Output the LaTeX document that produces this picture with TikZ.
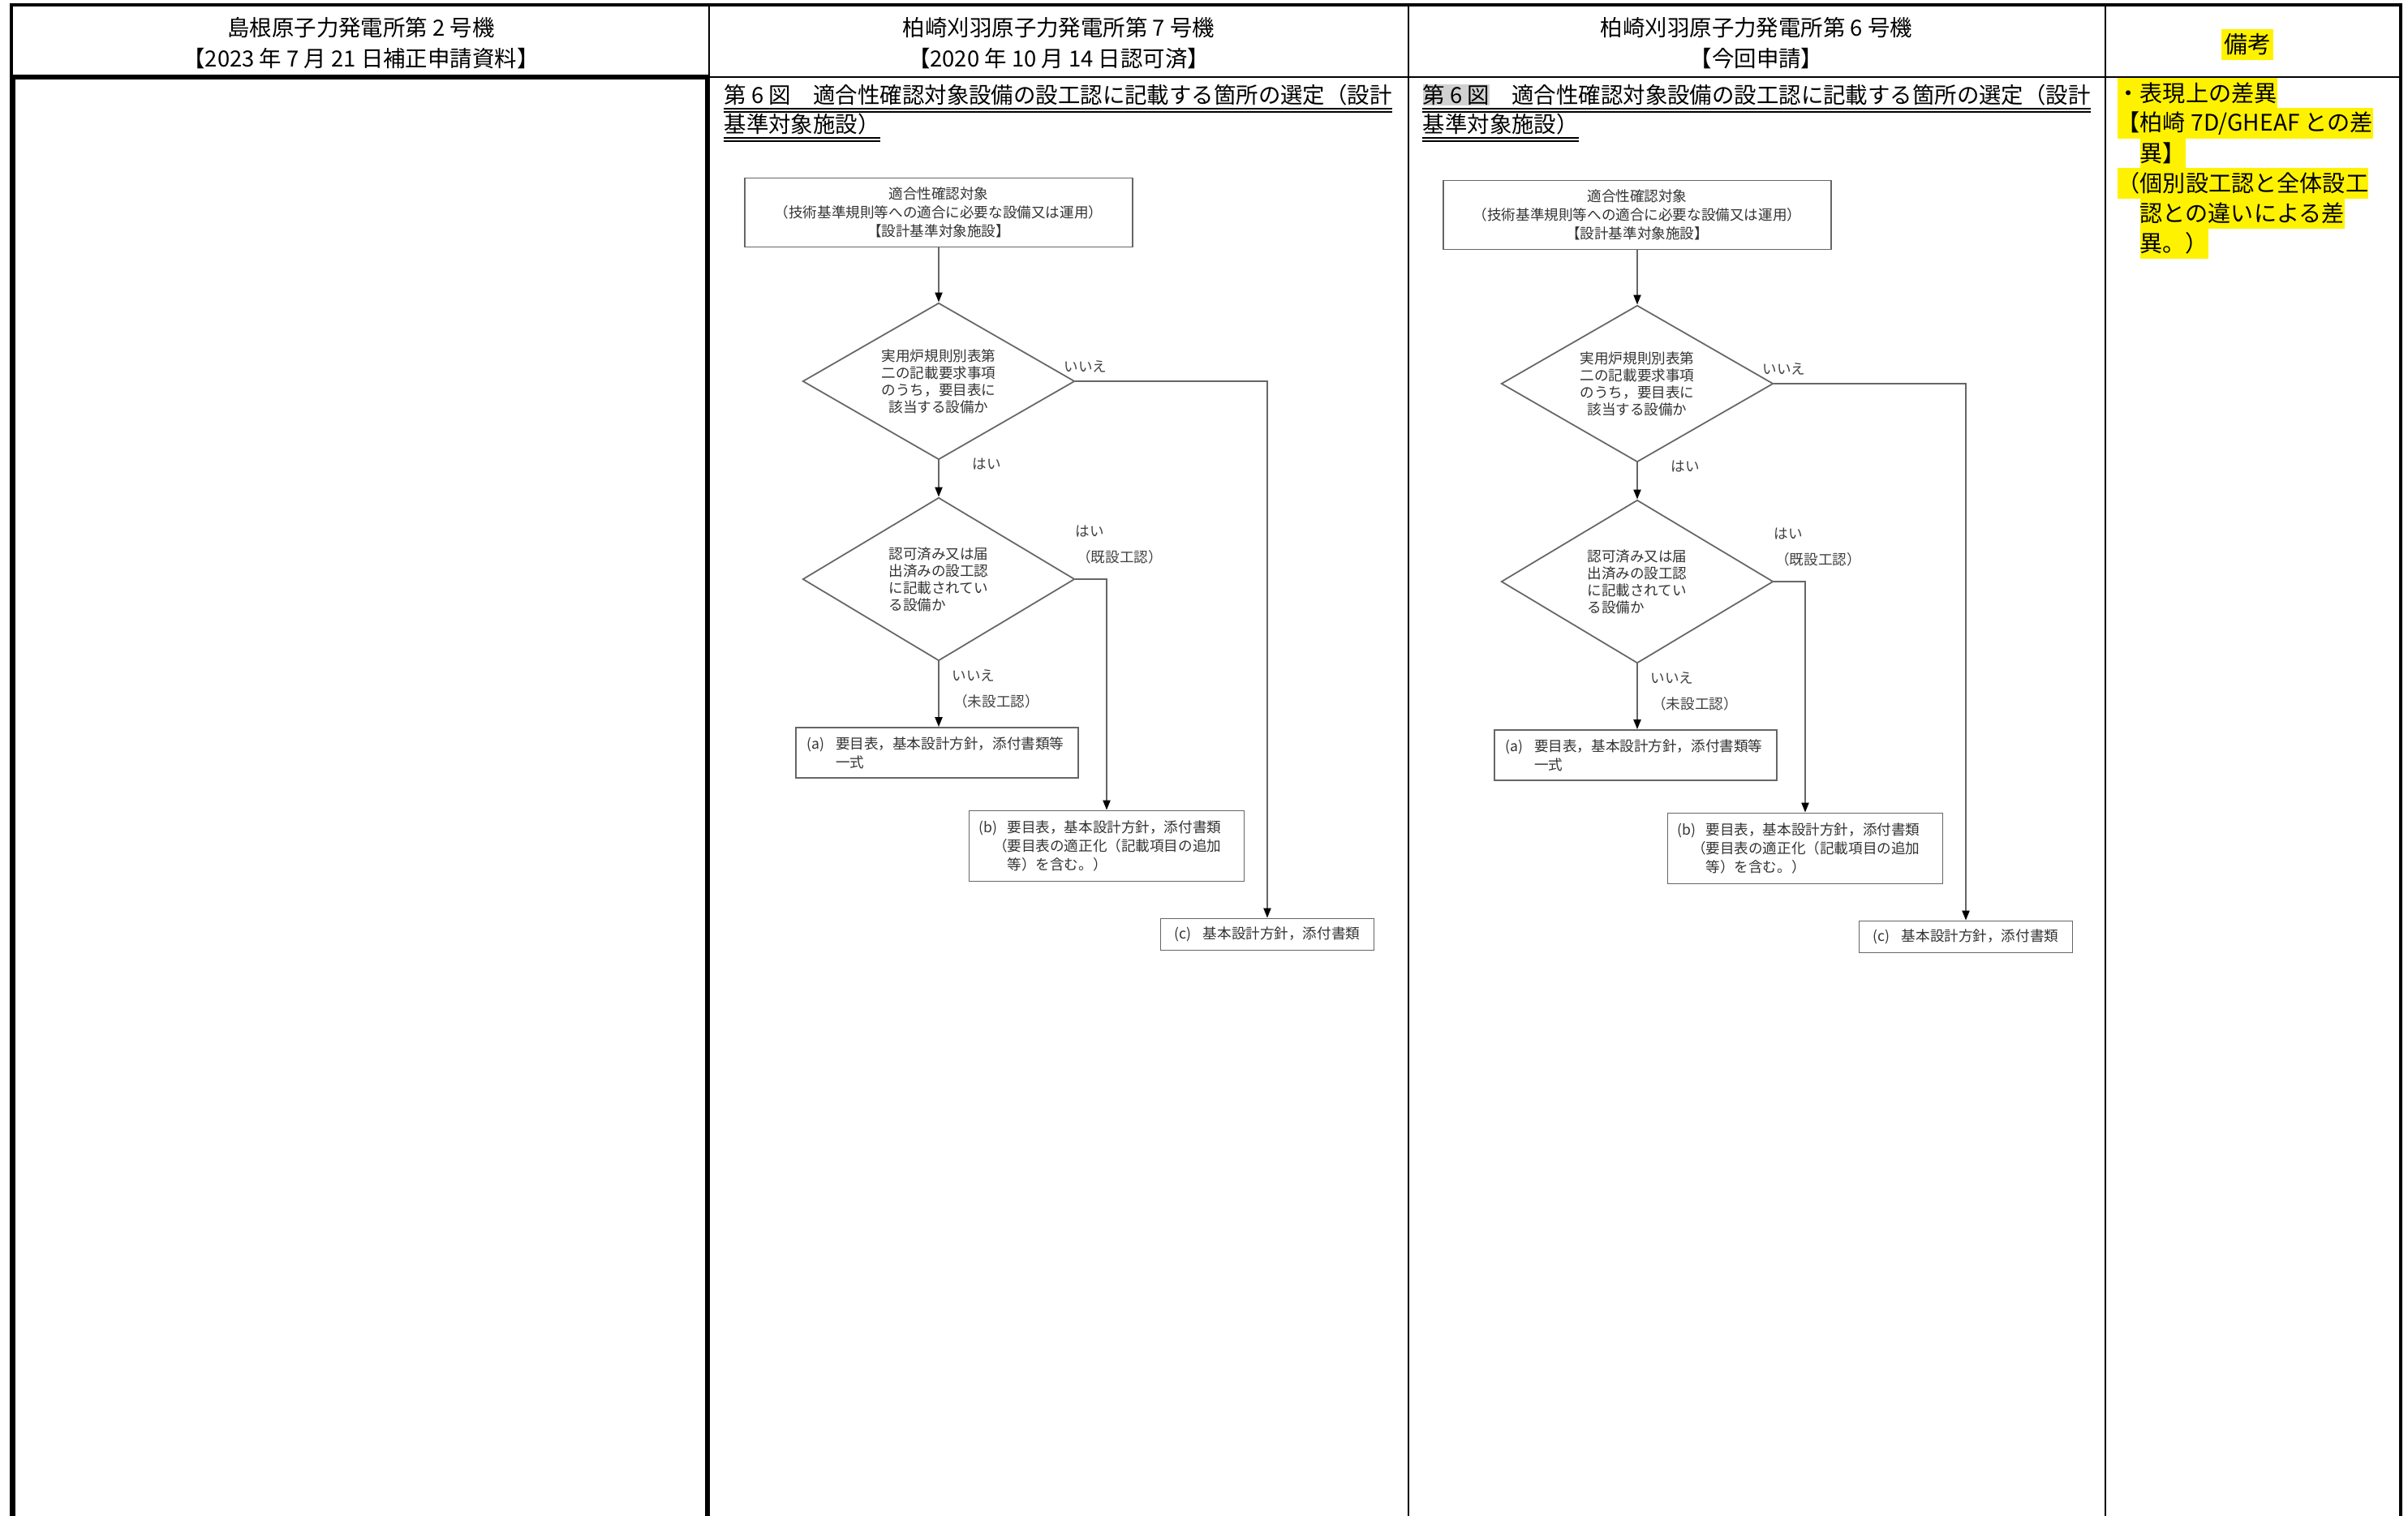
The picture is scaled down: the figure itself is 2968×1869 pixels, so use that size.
\documentclass[tikz,border=0pt]{standalone}
\usepackage{fontspec}
\usepackage{xcolor}
\newfontfamily\jp{Noto Sans CJK JP}
\usetikzlibrary{shapes.geometric,arrows.meta}

\tikzset{
	hdr/.style={font=\jp\fontsize{7.8}{10.8}\selectfont, align=center, inner sep=0pt},
	ttl/.style={font=\jp\fontsize{7.8}{10}\selectfont, anchor=west, inner sep=0pt},
	uline/.style={line width=0.45pt},
	note/.style={font=\jp\fontsize{8}{10}\selectfont, anchor=west, inner sep=0pt, fill=yellow, minimum height=0.37cm},
	fbox/.style={draw=black!60, line width=0.5pt, font=\jp\fontsize{5}{6.5}\selectfont, text=black!80, inner sep=0pt},
	fdia/.style={diamond, draw=black!60, line width=0.5pt, font=\jp\fontsize{5}{6}\selectfont, text=black!80, inner sep=0pt, shape aspect=1.74, minimum width=3.35cm},
	flbl/.style={font=\jp\fontsize{5}{6}\selectfont, text=black!75, inner sep=0pt},
	flow/.style={draw=black!60, line width=0.6pt},
	arr/.style={flow, -{Triangle[length=0.12cm, width=0.09cm, black]}}
}

\begin{document}
\begin{tikzpicture}[x=0.01cm, y=-0.01cm]
	\useasboundingbox (0,0) rectangle (2968,1869);

	% table lines
	\draw[line width=0.9pt] (14,1869) -- (14,6) -- (2959,6) -- (2959,1869);
	\draw[line width=0.8pt] (14,95) -- (2959,95);
	\draw[line width=0.6pt] (874,6) -- (874,95);
	\draw[line width=0.6pt] (1736,6) -- (1736,1869);
	\draw[line width=0.6pt] (2595,6) -- (2595,1869);
	\draw[line width=1.7pt] (16,1869) -- (16,95) -- (872,95) -- (872,1869);

	% headers
	\node[hdr] (head1) at (445,53) {島根原子力発電所第 2 号機\\【2023 年 7 月 21 日補正申請資料】};
	\node[hdr] (head2) at (1305,53) {柏崎刈羽原子力発電所第 7 号機\\【2020 年 10 月 14 日認可済】};
	\node[hdr] (head3) at (2165,53) {柏崎刈羽原子力発電所第 6 号機\\【今回申請】};
	\node[hdr, fill=yellow, inner xsep=0.03cm, inner ysep=0.06cm, font=\jp\fontsize{8.2}{10}\selectfont] (head4) at (2770,55) {備考};

	% figure titles
	\node[ttl] (titleA1) at (892,117) {第 6 図　適合性確認対象設備の設工認に記載する箇所の選定（設計};
	\node[ttl] (titleA2) at (892,153) {基準対象施設）};
	\node[ttl] (titleB1) at (1753,117) {{\setlength{\fboxsep}{0pt}\colorbox{black!18}{第 6 図}}　適合性確認対象設備の設工認に記載する箇所の選定（設計};
	\node[ttl] (titleB2) at (1753,153) {基準対象施設）};
	\foreach \t in {titleA1,titleA2,titleB1,titleB2} {
		\draw[uline] ([yshift=-0.17cm]\t.west) -- ([yshift=-0.17cm]\t.east);
		\draw[uline] ([yshift=-0.21cm]\t.west) -- ([yshift=-0.21cm]\t.east);
	}

	% remarks
	\node[note] (rem1) at (2609,115) {・表現上の差異};
	\node[note] (rem2) at (2609,152) {【柏崎 7D/GHEAF との差};
	\node[note] (rem3) at (2637,189) {異】};
	\node[note] (rem4) at (2609,226) {（個別設工認と全体設工};
	\node[note] (rem5) at (2637,263) {認との違いによる差};
	\node[note] (rem6) at (2637,300) {異。）};

	% the two flowcharts
	\foreach \s/\dx/\dy in {a/0/0, b/861/3} {
		\begin{scope}[shift={(\dx,\dy)}]
			\node[fbox, minimum width=4.77cm, minimum height=0.85cm, align=center] (top\s) at (1157,262) {適合性確認対象\\（技術基準規則等への適合に必要な設備又は運用）\\【設計基準対象施設】};
			\node[fdia, minimum height=1.93cm, align=center] (qa\s) at (1157,470) {実用炉規則別表第\\二の記載要求事項\\のうち，要目表に\\該当する設備か};
			\node[fdia, minimum height=2.01cm, align=left] (qb\s) at (1157,714) {認可済み又は届\\出済みの設工認\\に記載されてい\\る設備か};
			\node[fbox, minimum width=3.48cm, minimum height=0.62cm, text width=3.2cm, align=left] (ra\s) at (1155,928) {\makebox[2em][l]{(a)}要目表，基本設計方針，添付書類等\\\hspace*{2em}一式};
			\node[fbox, minimum width=3.39cm, minimum height=0.87cm, text width=3.15cm, align=left] (rb\s) at (1364,1043) {\makebox[2em][l]{(b)}要目表，基本設計方針，添付書類\\\hspace*{1em}（要目表の適正化（記載項目の追加\\\hspace*{2em}等）を含む。）};
			\node[fbox, minimum width=2.63cm, minimum height=0.39cm] (rc\s) at (1562,1152) {\makebox[2em][l]{(c)}基本設計方針，添付書類};

			\draw[arr] (top\s.south) -- (qa\s.north);
			\draw[arr] (qa\s.south) -- (qb\s.north);
			\draw[arr] (qa\s.east) -| (rc\s.north);
			\draw[arr] (qb\s.east) -| (rb\s.north);
			\draw[arr] (qb\s.south) -- (qb\s.south |- ra\s.north);

			\node[flbl] (noA\s) at (1338,452) {いいえ};
			\node[flbl] (yesA\s) at (1216,572) {はい};
			\node[flbl] (yesB\s) at (1343,655) {はい};
			\node[flbl] (oldB\s) at (1380,687) {（既設工認）};
			\node[flbl] (noB\s) at (1200,833) {いいえ};
			\node[flbl] (newB\s) at (1228,865) {（未設工認）};
		\end{scope}
	}
\end{tikzpicture}
\end{document}
